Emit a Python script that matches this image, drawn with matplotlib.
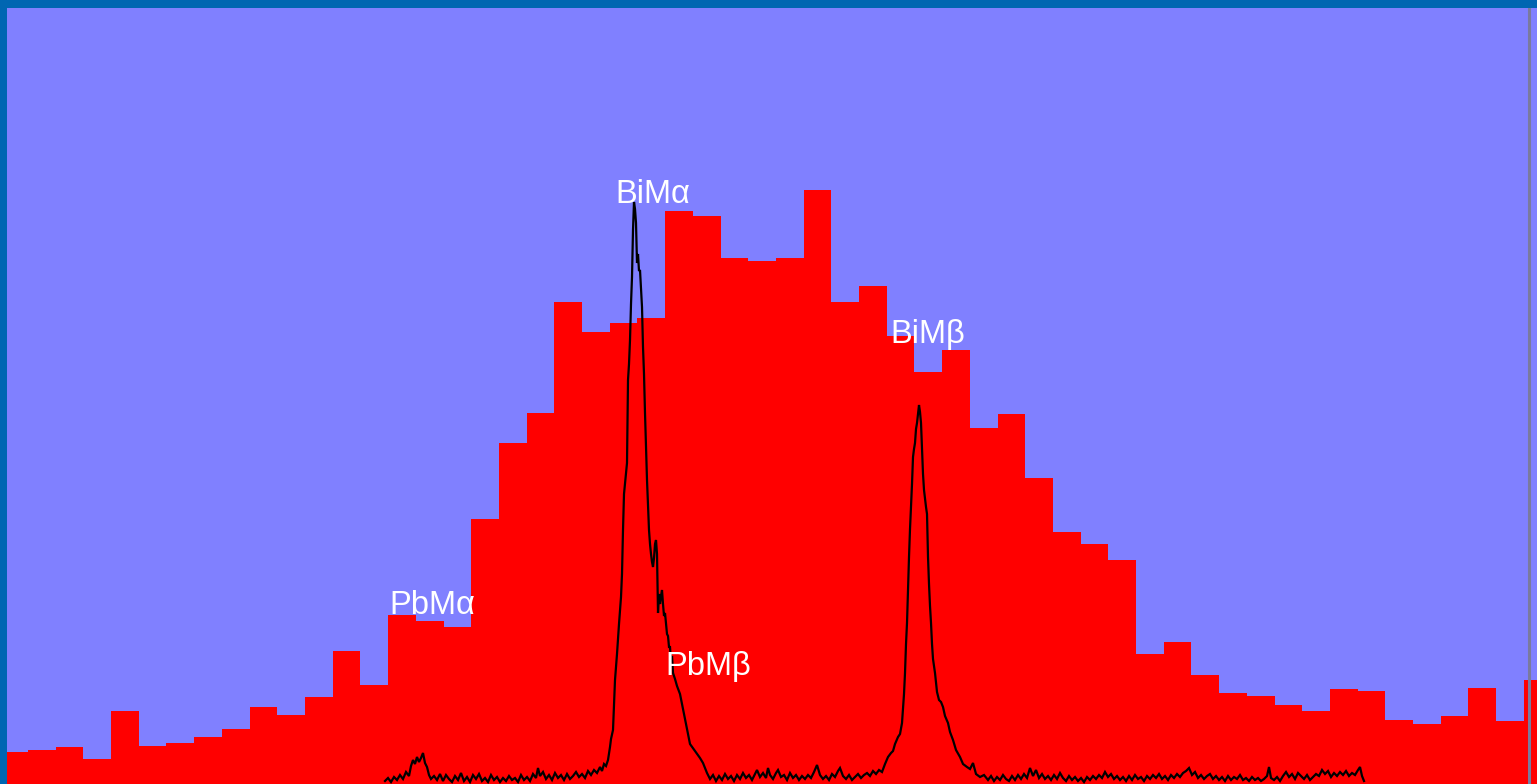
import numpy as np
import matplotlib
matplotlib.use("Agg")
import matplotlib.pyplot as plt

# ---------------- data ----------------
# EDS histogram: 10 eV bins (left edge of first bin in keV), counts per bin
eds_first_edge_kev = 2.194
eds_bin_width_kev = 0.010
eds_counts = [32, 34, 37, 25, 73, 38, 41, 47, 55, 77,
              69, 87, 133, 99, 169, 163, 157, 265, 341, 371,
              482, 452, 461, 466, 573, 568, 526, 523, 526, 594,
              482, 498, 448, 412, 434, 356, 370, 306, 252, 240,
              224, 130, 142, 109, 91, 88, 79, 73, 95, 93,
              64, 60, 68, 96, 63, 104]

# WDS spectrum: channel numbers and counts
wds_channels = [
    385, 388, 391, 394, 397, 400, 403, 406, 409, 411, 413, 415, 417, 419, 421, 423, 425, 427, 429, 431,
    434, 437, 440, 443, 446, 449, 452, 455, 458, 461, 464, 467, 470, 473, 476, 479, 482, 485, 488, 491,
    494, 497, 500, 503, 506, 509, 512, 515, 518, 521, 524, 527, 530, 533, 536, 538, 540, 543, 546, 549,
    552, 555, 558, 561, 564, 567, 570, 573, 576, 579, 582, 585, 588, 591, 594, 597, 600, 602, 604, 606,
    608, 610, 611, 613, 615, 617, 619, 621, 622, 623, 624, 625, 626, 627, 628, 629, 630, 631, 632, 633,
    634, 635, 636, 637, 638, 639, 640, 641, 642, 643, 644, 645, 646, 647, 648, 649, 650, 651, 652, 653,
    654, 655, 656, 657, 658, 659, 660, 661, 662, 663, 664, 665, 666, 667, 668, 669, 670, 671, 672, 673,
    675, 677, 680, 685, 690, 695, 700, 703, 707, 710, 713, 716, 719, 722, 725, 728, 731, 734, 737, 740,
    743, 746, 749, 752, 755, 757, 760, 763, 766, 768, 770, 773, 776, 778, 781, 784, 787, 790, 793, 796,
    799, 802, 805, 808, 811, 814, 817, 820, 823, 826, 829, 832, 835, 838, 840, 843, 846, 849, 852, 855,
    858, 861, 864, 867, 870, 873, 876, 879, 882, 885, 888, 891, 893, 895, 898, 900, 902, 904, 905, 906,
    907, 908, 909, 910, 911, 912, 913, 914, 915, 916, 917, 918, 919, 920, 921, 922, 923, 924, 925, 926,
    927, 928, 929, 930, 931, 932, 933, 935, 937, 939, 941, 943, 945, 948, 950, 953, 956, 960, 963, 967,
    970, 973, 976, 980, 984, 988, 991, 994, 997, 1000, 1003, 1006, 1009, 1012, 1015, 1018, 1021, 1024, 1027, 1030,
    1033, 1036, 1039, 1042, 1045, 1048, 1051, 1054, 1057, 1060, 1063, 1066, 1069, 1072, 1075, 1078, 1081, 1084, 1087, 1090,
    1093, 1096, 1099, 1102, 1105, 1108, 1111, 1114, 1117, 1120, 1123, 1126, 1129, 1132, 1135, 1138, 1141, 1144, 1147, 1150,
    1153, 1156, 1159, 1162, 1165, 1168, 1171, 1174, 1177, 1180, 1183, 1186, 1189, 1192, 1195, 1198, 1201, 1204, 1207, 1210,
    1213, 1216, 1219, 1222, 1225, 1228, 1231, 1234, 1237, 1240, 1243, 1246, 1249, 1252, 1255, 1258, 1261, 1264, 1267, 1269,
    1271, 1274, 1277, 1280, 1283, 1286, 1289, 1292, 1295, 1298, 1301, 1304, 1307, 1310, 1313, 1316, 1319, 1322, 1325, 1328,
    1331, 1334, 1337, 1340, 1343, 1346, 1349, 1352, 1355, 1358, 1360, 1362, 1364]
wds_counts = [
    3, 6, 2, 7, 4, 9, 5, 12, 8, 18, 24, 20, 27, 22, 26, 31, 21, 17, 9, 5,
    8, 4, 10, 3, 9, 5, 2, 8, 4, 11, 3, 7, 2, 9, 5, 10, 3, 6, 2, 9,
    4, 7, 2, 6, 3, 8, 4, 6, 2, 9, 4, 7, 3, 10, 6, 16, 8, 12, 5, 9,
    4, 11, 6, 9, 4, 10, 5, 8, 12, 7, 10, 6, 13, 9, 14, 11, 17, 13, 20, 18,
    24, 37, 45, 54, 104, 130, 160, 187, 210, 254, 290, 300, 310, 321, 404, 420, 444, 480, 507, 554,
    582, 575, 561, 521, 530, 513, 514, 495, 477, 437, 410, 371, 338, 304, 280, 254, 240, 230, 222, 217,
    226, 240, 244, 230, 171, 190, 180, 188, 194, 180, 168, 171, 160, 150, 148, 137, 137, 122, 128, 111,
    105, 98, 90, 65, 40, 33, 26, 21, 11, 5, 9, 3, 8, 4, 10, 5, 8, 3, 9, 5,
    11, 6, 9, 4, 10, 14, 7, 11, 6, 16, 9, 5, 11, 14, 7, 9, 4, 11, 6, 9,
    4, 8, 5, 9, 6, 12, 19, 9, 5, 8, 4, 10, 7, 13, 16, 8, 5, 9, 4, 7,
    10, 6, 9, 11, 8, 13, 10, 14, 12, 20, 27, 31, 33, 40, 47, 50, 61, 90, 111, 140,
    161, 195, 227, 255, 277, 300, 327, 335, 341, 355, 361, 370, 379, 372, 361, 334, 310, 294, 285, 277,
    270, 227, 200, 178, 161, 140, 125, 111, 92, 84, 82, 77, 68, 61, 52, 44, 34, 27, 20, 17,
    15, 21, 10, 7, 9, 4, 8, 3, 7, 4, 9, 5, 3, 8, 4, 9, 5, 10, 6, 16,
    8, 14, 6, 10, 5, 8, 4, 9, 5, 11, 6, 3, 8, 4, 7, 3, 6, 2, 7, 4,
    8, 5, 9, 6, 12, 7, 10, 5, 8, 4, 7, 3, 8, 4, 9, 5, 7, 3, 8, 5,
    9, 6, 10, 5, 8, 4, 9, 6, 10, 7, 11, 13, 16, 9, 12, 6, 9, 5, 8, 10,
    5, 8, 4, 7, 3, 8, 4, 7, 5, 9, 4, 6, 3, 7, 4, 6, 3, 5, 8, 17,
    6, 4, 7, 3, 8, 12, 7, 10, 5, 11, 8, 5, 9, 4, 7, 10, 8, 14, 10, 13,
    7, 11, 8, 12, 9, 13, 8, 11, 9, 14, 17, 8, 3]

# WDS energy calibration (channel -> keV)
wds_ref_channel = 28
wds_ref_energy_kev = 2.204
wds_channels_per_kev = 2770.0

# peak labels: (text, energy keV, counts at baseline of text)
label_texts = ["BiM\u03b1", "BiM\u03b2", "PbM\u03b1", "PbM\u03b2"]
label_energy = [2.4159, 2.5152, 2.3343, 2.4340]
label_counts = [581, 441, 170, 109]

marker_energy = 2.7459  # grey cursor line

# ---------------- figure ----------------
W, H = 1537, 784
fig = plt.figure(figsize=(W / 100, H / 100), dpi=100)
fig.patch.set_facecolor("#0066B2")

ax = fig.add_axes([7 / W, 0, (W - 7) / W, (H - 8) / H])
ax.set_facecolor("#8080FF")
for s in ax.spines.values():
    s.set_visible(False)
ax.set_xticks([])
ax.set_yticks([])

edges = np.round(eds_first_edge_kev + eds_bin_width_kev * np.arange(len(eds_counts) + 1), 4)
ax.stairs(eds_counts, edges, fill=True, color="#FF0000", baseline=0, linewidth=0)

wds_energy = wds_ref_energy_kev + (np.array(wds_channels) - wds_ref_channel) / wds_channels_per_kev
ax.plot(wds_energy, wds_counts, color="black", linewidth=1.6, solid_joinstyle="miter")

ax.axvline(marker_energy, color="#7A7A9E", linewidth=2.2)

for t, e, c in zip(label_texts, label_energy, label_counts):
    ax.text(e, c, t, color="white", fontsize=23.5, family=["Liberation Sans", "DejaVu Sans"],
            ha="left", va="baseline")

ax.set_xlim(2.19642, 2.74876)
ax.set_ylim(0, 776)

fig.savefig("out.png", dpi=100, facecolor=fig.get_facecolor())
